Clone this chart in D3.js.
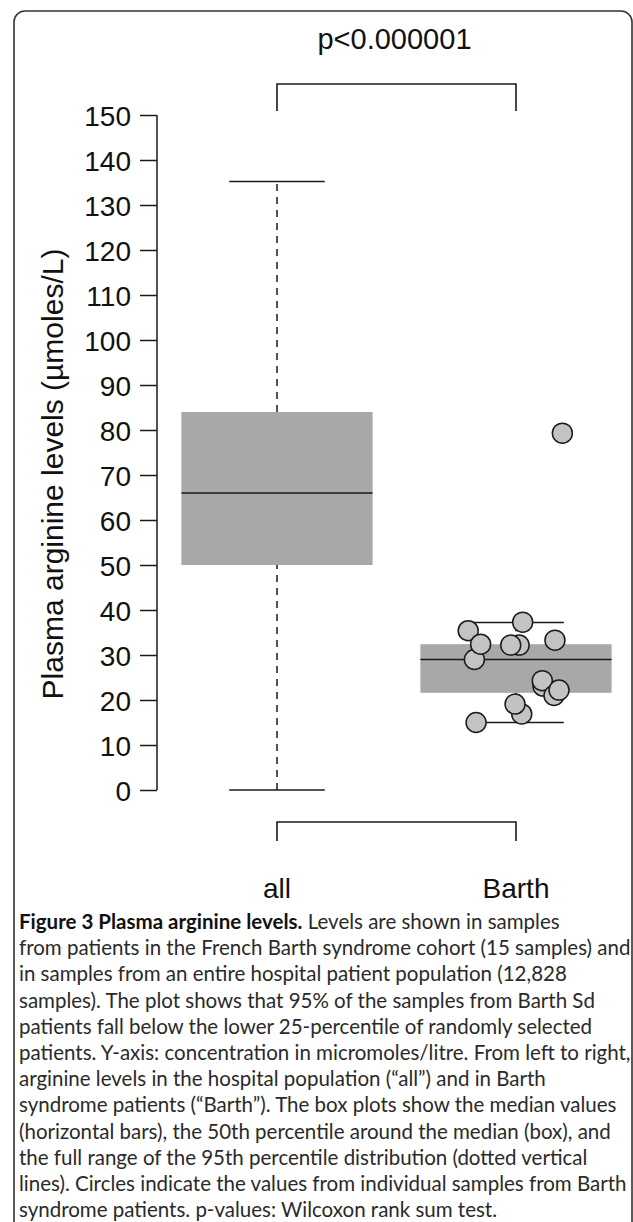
<!DOCTYPE html>
<html>
<head>
<meta charset="utf-8">
<script src="https://cdn.jsdelivr.net/npm/d3@7"></script>
<style>
  html, body { margin: 0; padding: 0; background: #fff; }
  svg { display: block; }
</style>
</head>
<body>
<svg id="chart" width="633" height="1222"></svg>
<script>
// ---- data ----
const categories = ["all", "Barth"];
const q1Values = [50, 21.6];
const medianValues = [66, 29.0];
const q3Values = [84, 32.4];
const whiskerLow = [0, 15.0];
const whiskerHigh = [135.2, 37.2];
const yTicks = [0, 10, 20, 30, 40, 50, 60, 70, 80, 90, 100, 110, 120, 130, 140, 150];
// Barth individual samples (value, jittered group position), in drawing order
const barthValues = [35.4, 29.0, 32.4, 32.2, 32.2, 33.3, 37.3, 23.1, 24.3, 21.0, 22.2, 16.9, 19.1, 15.0, 79.3];
const barthJitter = [1.800, 1.826, 1.852, 2.013, 1.978, 2.163, 2.028, 2.113, 2.110, 2.159, 2.180, 2.024, 1.996, 1.833, 2.194];
const pLabel = "p<0.000001";
const yTitle = "Plasma arginine levels (µmoles/L)";
const captionBold = "Figure 3 Plasma arginine levels.";
const captionLines = [
  " Levels are shown in samples",
  "from patients in the French Barth syndrome cohort (15 samples) and",
  "in samples from an entire hospital patient population (12,828",
  "samples). The plot shows that 95% of the samples from Barth Sd",
  "patients fall below the lower 25-percentile of randomly selected",
  "patients. Y-axis: concentration in micromoles/litre. From left to right,",
  "arginine levels in the hospital population (“all”) and in Barth",
  "syndrome patients (“Barth”). The box plots show the median values",
  "(horizontal bars), the 50th percentile around the median (box), and",
  "the full range of the 95th percentile distribution (dotted vertical",
  "lines). Circles indicate the values from individual samples from Barth",
  "syndrome patients. p-values: Wilcoxon rank sum test."
];

// ---- layout ----
const svg = d3.select("#chart");
const ink = "#1a1a1a";
const boxFill = "#a8a8a8";
const ptFill = "#c3c3c3";
const labelFont = "'Liberation Sans', Arial, Helvetica, sans-serif";

const y = d3.scaleLinear().domain([0, 150]).range([790, 115]);
const x = d3.scaleLinear().domain([1, 2]).range([277, 516]);
const boxHalf = 0.4, stapleHalf = 0.2;

// frame
svg.append("rect")
  .attr("x", 14).attr("y", 11).attr("width", 618).attr("height", 1300)
  .attr("rx", 11).attr("ry", 11)
  .attr("fill", "none").attr("stroke", "#333").attr("stroke-width", 1.6);

// y axis
const axisX = 157;
const yAxis = d3.axisLeft(y).tickValues(yTicks).tickSize(17).tickPadding(9).tickFormat(d3.format("d"));
const gAxis = svg.append("g").attr("transform", `translate(${axisX},0)`).call(yAxis);
gAxis.select(".domain").attr("d", `M0,${y(0)}V${y(150)}`).attr("stroke", ink).attr("stroke-width", 1.5);
gAxis.selectAll(".tick line").attr("stroke", ink).attr("stroke-width", 1.5);
gAxis.selectAll(".tick text")
  .attr("font-family", labelFont).attr("font-size", 28).attr("fill", "#111")
  .attr("dy", "0.36em");

// y title
svg.append("text")
  .attr("transform", `translate(63,474) rotate(-90)`)
  .attr("text-anchor", "middle")
  .attr("font-family", labelFont).attr("font-size", 30).attr("fill", "#111")
  .text(yTitle);

// boxes
const idx = d3.range(categories.length);
const g = svg.append("g");
// whiskers (dashed)
g.selectAll("line.wl").data(idx).join("line")
  .attr("x1", i => x(i + 1)).attr("x2", i => x(i + 1))
  .attr("y1", i => y(whiskerLow[i])).attr("y2", i => y(q1Values[i]))
  .attr("stroke", ink).attr("stroke-width", 1.5).attr("stroke-dasharray", "7,6");
g.selectAll("line.wh").data(idx).join("line")
  .attr("x1", i => x(i + 1)).attr("x2", i => x(i + 1))
  .attr("y1", i => y(q3Values[i])).attr("y2", i => y(whiskerHigh[i]))
  .attr("stroke", ink).attr("stroke-width", 1.5).attr("stroke-dasharray", "7,6");
// staples
[whiskerLow, whiskerHigh].forEach(arr => {
  g.append("g").selectAll("line").data(idx).join("line")
    .attr("x1", i => x(i + 1 - stapleHalf)).attr("x2", i => x(i + 1 + stapleHalf))
    .attr("y1", i => y(arr[i])).attr("y2", i => y(arr[i]))
    .attr("stroke", ink).attr("stroke-width", 1.5);
});
// box rects
g.append("g").selectAll("rect").data(idx).join("rect")
  .attr("x", i => x(i + 1 - boxHalf))
  .attr("width", i => x(i + 1 + boxHalf) - x(i + 1 - boxHalf))
  .attr("y", i => y(q3Values[i]))
  .attr("height", i => y(q1Values[i]) - y(q3Values[i]))
  .attr("fill", boxFill);
// medians
g.append("g").selectAll("line").data(idx).join("line")
  .attr("x1", i => x(i + 1 - boxHalf)).attr("x2", i => x(i + 1 + boxHalf))
  .attr("y1", i => y(medianValues[i])).attr("y2", i => y(medianValues[i]))
  .attr("stroke", ink).attr("stroke-width", 1.6);

// points
svg.append("g").selectAll("circle").data(barthValues).join("circle")
  .attr("cx", (d, i) => x(barthJitter[i]))
  .attr("cy", d => y(d))
  .attr("r", 10)
  .attr("fill", ptFill).attr("stroke", ink).attr("stroke-width", 1.5);

// significance bracket (top)
const bx1 = x(1), bx2 = x(2);
svg.append("path")
  .attr("d", `M${bx1},111V84H${bx2}V111`)
  .attr("fill", "none").attr("stroke", ink).attr("stroke-width", 1.6);
svg.append("text")
  .attr("x", (bx1 + bx2) / 2 - 2).attr("y", 49)
  .attr("text-anchor", "middle")
  .attr("font-family", labelFont).attr("font-size", 29).attr("fill", "#111")
  .text(pLabel);

// category bracket (bottom)
svg.append("path")
  .attr("d", `M${bx1},841V822H${bx2}V841`)
  .attr("fill", "none").attr("stroke", ink).attr("stroke-width", 1.6);
svg.append("g").selectAll("text").data(categories).join("text")
  .attr("x", (d, i) => x(i + 1)).attr("y", 898)
  .attr("text-anchor", "middle")
  .attr("font-family", labelFont).attr("font-size", 28).attr("fill", "#111")
  .text(d => d);

// caption
const capFont = "Lato, 'Open Sans', sans-serif";
const cap = svg.append("g").attr("font-family", capFont).attr("fill", "#2a2a2a");
const capX = 19, capY0 = 929, capDY = 26.2;
const capFS = 20.5;
const first = cap.append("text").attr("x", capX).attr("y", capY0).attr("font-size", capFS);
first.append("tspan").attr("font-weight", "bold").attr("fill", "#111").text(captionBold);
first.append("tspan").text(captionLines[0]);
captionLines.slice(1).forEach((t, i) => {
  cap.append("text").attr("x", capX).attr("y", capY0 + (i + 1) * capDY)
    .attr("font-size", capFS).text(t);
});
</script>
</body>
</html>
